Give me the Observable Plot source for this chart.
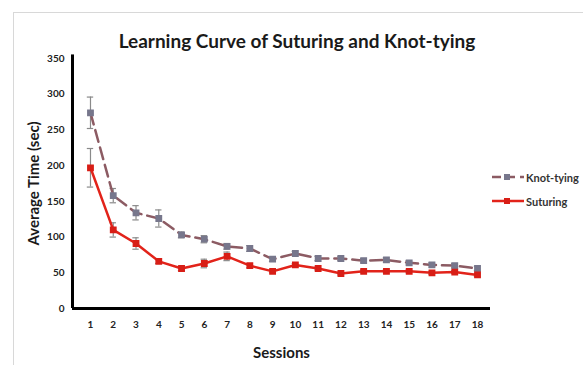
<!DOCTYPE html>
<html><head><meta charset="utf-8">
<script src="https://cdn.jsdelivr.net/npm/d3@7"></script>
<script src="https://cdn.jsdelivr.net/npm/@observablehq/plot@0.6"></script>
<style>
html,body{margin:0;padding:0;background:#fff;}
#wrap{position:relative;width:583px;height:365px;overflow:hidden;font-family:Lato,"Open Sans",sans-serif;}
#border{position:absolute;left:13px;top:12px;width:600px;height:400px;border:1px solid #d8d8d8;box-sizing:border-box;}
#title{position:absolute;left:0;width:594px;top:29px;text-align:center;font-weight:bold;font-size:19px;color:#1a1a1a;}
.leg{position:absolute;font-size:11px;color:#333;font-weight:bold;white-space:nowrap;}
svg.plot{position:absolute;left:0;top:0;}
</style></head>
<body><div id="wrap"><div id="border"></div><div id="title">Learning Curve of Suturing and Knot-tying</div></div>
<script>
const sessions = [1,2,3,4,5,6,7,8,9,10,11,12,13,14,15,16,17,18];
const knotTying = [274,158,134,126,103,97,87,84,69,77,70,70,67,68,64,61,60,56];
const knotErr   = [22,10,10,12,4,5,4,4,3,3,3,3,3,3,3,3,3,3];
const suturing  = [197,110,91,66,56,63,73,60,52,61,56,49,52,52,52,50,51,47];
const sutErr    = [27,10,8,3,3,6,6,3,2,2,2,2,2,2,2,2,2,2];
const yTicks = [0,50,100,150,200,250,300,350];

const knot = sessions.map((s,i)=>({s, v:knotTying[i], e:knotErr[i]}));
const sut = sessions.map((s,i)=>({s, v:suturing[i], e:sutErr[i]}));
const cap = 0.14;
const errMarks = (data)=>[
  Plot.ruleX(data,{x:"s", y1:d=>d.v-d.e, y2:d=>d.v+d.e, stroke:"#8a8a8a", strokeWidth:1.2}),
  Plot.ruleY(data,{y:d=>d.v+d.e, x1:d=>d.s-cap, x2:d=>d.s+cap, stroke:"#8a8a8a", strokeWidth:1.2}),
  Plot.ruleY(data,{y:d=>d.v-d.e, x1:d=>d.s-cap, x2:d=>d.s+cap, stroke:"#8a8a8a", strokeWidth:1.2})
];

const chart = Plot.plot({
  width:583, height:365,
  marginLeft:72, marginRight:93, marginTop:58, marginBottom:57,
  style:{fontFamily:"Lato, 'Open Sans', sans-serif", background:"transparent"},
  x:{domain:[0.21,18.57]},
  y:{domain:[0,350]},
  marks:[
    Plot.axisY({ticks:yTicks, tickSize:0, tickPadding:8, fontWeight:"bold", fontSize:10, fill:"#222",
      label:"Average Time (sec)", labelAnchor:"center", labelOffset:44, labelArrow:"none"}),
    Plot.axisX({ticks:sessions, tickSize:0, tickPadding:12, fontWeight:"bold", fontSize:10, fill:"#222",
      tickFormat:d=>String(d), label:"Sessions", labelAnchor:"center", labelOffset:49, labelArrow:"none"}),
    ...errMarks(knot),
    ...errMarks(sut),
    Plot.line(knot,{x:"s", y:"v", stroke:"#8c5b63", strokeWidth:2.5, strokeDasharray:"12,6"}),
    Plot.dot(knot,{x:"s", y:"v", symbol:"square", r:3, fill:"#77778c", stroke:"#77778c"}),
    Plot.line(sut,{x:"s", y:"v", stroke:"#e2231a", strokeWidth:2.5}),
    Plot.dot(sut,{x:"s", y:"v", symbol:"square", r:3, fill:"#d81e16", stroke:"#d81e16"}),
    Plot.ruleX([0.21],{y1:0, y2:355, stroke:"#000", strokeWidth:3}),
    Plot.ruleY([0],{x1:0.21, x2:18.57, stroke:"#000", strokeWidth:3})
  ]
});
chart.querySelectorAll("g[aria-label='y-axis label'] text, g[aria-label='x-axis label'] text").forEach(t=>{
  t.setAttribute("font-weight","bold"); t.setAttribute("font-size","15"); t.setAttribute("fill","#1a1a1a");
});
const wrap = document.getElementById("wrap");
wrap.appendChild(chart);

// legend
function legend(top, label, color, dash, mark){
  const d = document.createElement("div");
  d.className="leg"; d.style.left="491px"; d.style.top=(top-8)+"px";
  d.innerHTML = `<svg width="35" height="14" style="vertical-align:middle"><line x1="1" x2="33" y1="7" y2="7" stroke="${color}" stroke-width="2.5" ${dash?'stroke-dasharray="9,5"':''}/><rect x="13" y="4" width="6" height="6" fill="${mark}"/></svg><span style="vertical-align:middle">${label}</span>`;
  wrap.appendChild(d);
}
legend(177,"Knot-tying","#8c5b63",true,"#77778c");
legend(201,"Suturing","#e2231a",false,"#d81e16");
</script></body></html>
